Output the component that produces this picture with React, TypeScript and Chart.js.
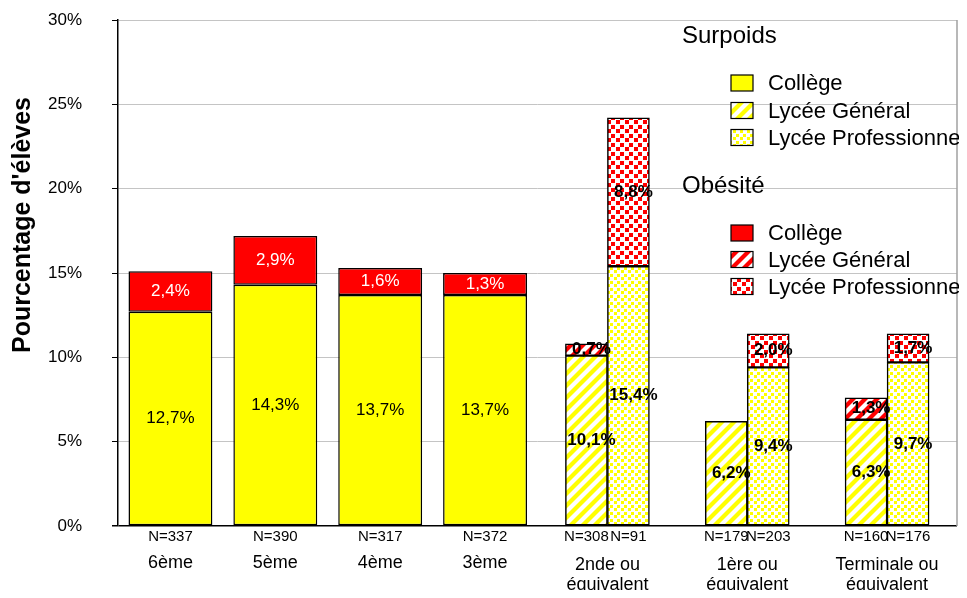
import React, { useEffect, useRef } from "react";
import { Chart, registerables } from "chart.js";
Chart.register(...registerables);

// ---------- data ----------
const collegeLevels = ["6ème", "5ème", "4ème", "3ème"];
const collegeSurpoids = [12.7, 14.3, 13.7, 13.7];
const collegeObesite = [2.4, 2.9, 1.6, 1.3];
const collegeN = [337, 390, 317, 372];

const lyceeLevels = [
  ["2nde ou", "équivalent"],
  ["1ère ou", "équivalent"],
  ["Terminale ou", "équivalent"],
];
const generalSurpoids = [10.1, 6.2, 6.3];
const generalObesite = [0.7, null, 1.3];
const generalN = [308, 179, 160];
const proSurpoids = [15.4, 9.4, 9.7];
const proObesite = [8.8, 2.0, 1.7];
const proN = [91, 203, 176];

const yMin = 0;
const yMax = 30;
const yStep = 5;

// slots of the two category axes (college groups first, lycée groups last)
const collegeSlots = 8;
const lyceeSlots = 6;

const FONT = '"Liberation Sans", Arial, sans-serif';
const YELLOW = "#FFFF00";
const RED = "#FF0000";

const fmt = (v: number) => v.toFixed(1).replace(".", ",") + "%";

function padEnd<T>(arr: T[], n: number): (T | null)[] {
  return Array.from({ length: n }, (_, i) => (i < arr.length ? arr[i] : null));
}
function padStart<T>(arr: T[], n: number): (T | null)[] {
  const off = n - arr.length;
  return Array.from({ length: n }, (_, i) => (i >= off ? arr[i - off] : null));
}

function stripePattern(ctx: CanvasRenderingContext2D, color: string) {
  const s = 12;
  const c = document.createElement("canvas");
  c.width = s;
  c.height = s;
  const g = c.getContext("2d")!;
  g.fillStyle = "#fff";
  g.fillRect(0, 0, s, s);
  g.strokeStyle = color;
  g.lineWidth = 4.2;
  for (const o of [-s, 0, s]) {
    g.beginPath();
    g.moveTo(o - 2, s + 2);
    g.lineTo(o + s + 2, -2);
    g.stroke();
  }
  return ctx.createPattern(c, "repeat")!;
}

function dotPattern(
  ctx: CanvasRenderingContext2D,
  color: string,
  tile: number,
  sq: number,
  dx: number,
  dy: number
) {
  const c = document.createElement("canvas");
  c.width = tile;
  c.height = tile;
  const g = c.getContext("2d")!;
  g.fillStyle = "#fff";
  g.fillRect(0, 0, tile, tile);
  g.fillStyle = color;
  g.fillRect(0, 0, sq, sq);
  g.fillRect(dx, dy, sq, sq);
  return ctx.createPattern(c, "repeat")!;
}

export default function App() {
  const ref = useRef<HTMLCanvasElement>(null);

  useEffect(() => {
    const canvas = ref.current!;
    const ctx0 = canvas.getContext("2d")!;
    const yStripes = stripePattern(ctx0, YELLOW);
    const rStripes = stripePattern(ctx0, RED);
    const yDots = dotPattern(ctx0, YELLOW, 7, 3, 4, 3);
    const rDots = dotPattern(ctx0, RED, 9, 4, 5, 4);

    const xcLabels = padEnd(collegeLevels, collegeSlots).map((v) => v ?? "");
    const xlLabels = padStart(lyceeLevels.map((l) => l.join(" ")), lyceeSlots).map((v) => v ?? "");

    const common = {
      borderColor: "#000",
      borderWidth: 1.5,
      borderSkipped: false,
    };
    const collegeBar = {
      ...common,
      xAxisID: "xc",
      stack: "c",
      grouped: false,
      barPercentage: 0.8,
      categoryPercentage: 1,
    };
    const lyceeBar = {
      ...common,
      xAxisID: "xl",
      grouped: true,
      skipNull: true,
      barThickness: 42,
    };

    const datasets: any[] = [
      {
        ...collegeBar,
        label: "Surpoids Collège",
        data: padEnd(collegeSurpoids, collegeSlots),
        backgroundColor: YELLOW,
        nValues: padEnd(collegeN, collegeSlots),
        labelColor: "#000",
        labelBold: false,
      },
      {
        ...collegeBar,
        label: "Obésité Collège",
        data: padEnd(collegeObesite, collegeSlots),
        backgroundColor: RED,
        labelColor: "#fff",
        labelBold: false,
      },
      {
        ...lyceeBar,
        label: "Surpoids Lycée Général",
        data: padStart(generalSurpoids, lyceeSlots),
        backgroundColor: yStripes,
        stack: "lg",
        nValues: padStart(generalN, lyceeSlots),
        labelColor: "#000",
        labelBold: true,
      },
      {
        ...lyceeBar,
        label: "Obésité Lycée Général",
        data: padStart(generalObesite, lyceeSlots),
        backgroundColor: rStripes,
        stack: "lg",
        labelColor: "#000",
        labelBold: true,
      },
      {
        ...lyceeBar,
        label: "Surpoids Lycée Professionnel",
        data: padStart(proSurpoids, lyceeSlots),
        backgroundColor: yDots,
        stack: "lp",
        nValues: padStart(proN, lyceeSlots),
        labelColor: "#000",
        labelBold: true,
      },
      {
        ...lyceeBar,
        label: "Obésité Lycée Professionnel",
        data: padStart(proObesite, lyceeSlots),
        backgroundColor: rDots,
        stack: "lp",
        labelColor: "#000",
        labelBold: true,
      },
    ];

    const segLabels = {
      id: "segLabels",
      afterDatasetsDraw(chart: any) {
        const ctx = chart.ctx;
        chart.data.datasets.forEach((ds: any, di: number) => {
          const meta = chart.getDatasetMeta(di);
          meta.data.forEach((el: any, j: number) => {
            const v = ds.data[j];
            if (v == null) return;
            const { x, y, base } = el.getProps(["x", "y", "base"], true);
            ctx.save();
            ctx.font = `${ds.labelBold ? "bold " : ""}17px ${FONT}`;
            ctx.fillStyle = ds.labelColor;
            ctx.textAlign = "center";
            ctx.textBaseline = "middle";
            ctx.fillText(fmt(v), x + (ds.labelBold ? 5 : 0), (y + base) / 2);
            ctx.restore();
          });
        });
      },
    };

    const decor = {
      id: "decor",
      afterDraw(chart: any) {
        const ctx = chart.ctx;
        const area = chart.chartArea;
        ctx.save();
        // right border of the plot area
        ctx.strokeStyle = "#a0a0a0";
        ctx.lineWidth = 1.5;
        ctx.beginPath();
        ctx.moveTo(area.right, area.top);
        ctx.lineTo(area.right, area.bottom);
        ctx.stroke();

        // N= labels under each bar
        ctx.fillStyle = "#000";
        ctx.textAlign = "center";
        ctx.textBaseline = "middle";
        ctx.font = `15px ${FONT}`;
        chart.data.datasets.forEach((ds: any, di: number) => {
          if (!ds.nValues) return;
          const meta = chart.getDatasetMeta(di);
          meta.data.forEach((el: any, j: number) => {
            const n = ds.nValues[j];
            if (n == null) return;
            ctx.fillText("N=" + n, el.x, area.bottom + 11);
          });
        });

        // category labels
        ctx.font = `18px ${FONT}`;
        const xc = chart.scales.xc;
        const xl = chart.scales.xl;
        collegeLevels.forEach((lab, i) => {
          ctx.fillText(lab, xc.getPixelForValue(i), area.bottom + 37);
        });
        const off = lyceeSlots - lyceeLevels.length;
        lyceeLevels.forEach((lines, i) => {
          const x = xl.getPixelForValue(off + i);
          lines.forEach((ln, k) => ctx.fillText(ln, x, area.bottom + 39 + k * 20));
        });

        // y-axis title
        ctx.save();
        ctx.translate(15, 217);
        ctx.rotate(-Math.PI / 2);
        ctx.font = `bold 25px ${FONT}`;
        ctx.fillText("Pourcentage d'élèves", 0, 0);
        ctx.restore();

        // legend
        const drawGroup = (title: string, baseY: number, centers: number[], fills: any[]) => {
          ctx.textAlign = "left";
          ctx.textBaseline = "alphabetic";
          ctx.font = `24px ${FONT}`;
          ctx.fillStyle = "#000";
          ctx.fillText(title, 674, baseY);
          const names = ["Collège", "Lycée Général", "Lycée Professionnel"];
          ctx.font = `22px ${FONT}`;
          names.forEach((nm, k) => {
            const cy = centers[k];
            ctx.fillStyle = fills[k];
            ctx.fillRect(723, cy - 8, 22, 16);
            ctx.strokeStyle = "#000";
            ctx.lineWidth = 1.2;
            ctx.strokeRect(723, cy - 8, 22, 16);
            ctx.fillStyle = "#000";
            ctx.fillText(nm, 760, cy + 7);
          });
        };
        drawGroup("Surpoids", 35, [75, 102.5, 129.5], [YELLOW, yStripes, yDots]);
        drawGroup("Obésité", 185, [225, 251.5, 278.5], [RED, rStripes, rDots]);
        ctx.restore();
      },
    };

    const chart = new Chart(canvas, {
      type: "bar",
      data: { labels: xcLabels, datasets },
      options: {
        animation: false,
        responsive: false,
        events: [],
        layout: { padding: { top: 12, bottom: 72, right: 2, left: 0 } },
        plugins: { legend: { display: false }, tooltip: { enabled: false } },
        scales: {
          xc: {
            type: "category",
            labels: xcLabels,
            display: false,
            stacked: true,
            offset: true,
          },
          xl: {
            type: "category",
            labels: xlLabels,
            display: false,
            stacked: true,
            offset: true,
          },
          y: {
            stacked: true,
            min: yMin,
            max: yMax,
            afterFit: (scale: any) => {
              scale.width = 110;
              scale.paddingTop = 11;
              scale.paddingBottom = 11;
            },
            border: { color: "#000", width: 1.5 },
            grid: {
              color: (c: any) => (c.tick && c.tick.value === 0 ? "#000" : "#c4c4c4"),
              lineWidth: (c: any) => (c.tick && c.tick.value === 0 ? 1.5 : 1),
              tickLength: 6,
              tickColor: "#000",
            },
            ticks: {
              stepSize: yStep,
              padding: 30,
              color: "#000",
              font: { family: FONT, size: 17 },
              callback: (v: any) => v + "%",
            },
          },
        },
      } as any,
      plugins: [segLabels, decor],
    });
    return () => chart.destroy();
  }, []);

  return (
    <div style={{ width: 951, height: 590, marginBottom: -8 }}>
      <canvas ref={ref} width={951} height={590} style={{ display: "block" }} />
    </div>
  );
}
